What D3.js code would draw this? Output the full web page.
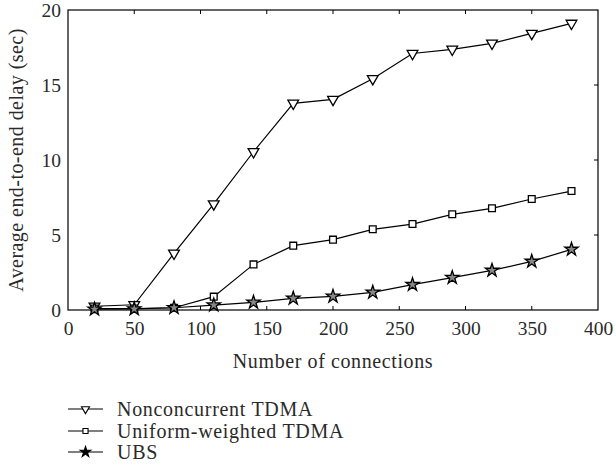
<!DOCTYPE html>
<html><head><meta charset="utf-8">
<script src="https://cdn.jsdelivr.net/npm/d3@7"></script>
<style>body{margin:0;background:#fff}svg{display:block}</style>
</head><body>
<svg id="c" width="616" height="471"></svg>
<script>
const xValues = [20,50,80,110,140,170,200,230,260,290,320,350,380];
const nonconcurrent = [0.25,0.35,3.78,7.07,10.55,13.78,14.04,15.42,17.1,17.38,17.78,18.44,19.11];
const uniformWeighted = [0.1,0.1,0.15,0.89,3.04,4.29,4.69,5.38,5.73,6.38,6.78,7.4,7.93];
const ubs = [0.05,0.07,0.15,0.33,0.51,0.78,0.91,1.18,1.69,2.16,2.64,3.24,4.04];
const seriesNames = ["Nonconcurrent TDMA","Uniform-weighted TDMA","UBS"];
const xTicks = [0,50,100,150,200,250,300,350,400];
const yTicks = [0,5,10,15,20];
const xLabel = "Number of connections";
const yLabel = "Average end-to-end delay (sec)";

const FONT = '"Liberation Serif", "Times New Roman", serif';
const svg = d3.select("#c");
const L=68,R=598,T=10,B=310;
const x = d3.scaleLinear().domain([0,400]).range([L,R]);
const y = d3.scaleLinear().domain([0,20]).range([B,T]);

svg.append("rect").attr("x",L).attr("y",T).attr("width",R-L).attr("height",B-T)
  .attr("fill","none").attr("stroke","#000").attr("stroke-width",1.2);

function styleText(sel, size, ls){
  sel.style("font-family",FONT).style("font-size",size+"px").style("fill","#2a2a2a")
     .style("letter-spacing",(ls||0)+"px");
}
const xb = svg.append("g").attr("transform",`translate(0,${B})`)
  .call(d3.axisBottom(x).tickValues(xTicks).tickSize(0).tickPadding(11).tickFormat(d3.format("d")));
xb.select(".domain").remove();
styleText(xb.selectAll("text"), 19.5);
xTicks.slice(1,-1).forEach(t=>{
  svg.append("line").attr("x1",x(t)).attr("x2",x(t)).attr("y1",B).attr("y2",B-4).attr("stroke","#000");
  svg.append("line").attr("x1",x(t)).attr("x2",x(t)).attr("y1",T).attr("y2",T+4).attr("stroke","#000");
});
const yl = svg.append("g").attr("transform",`translate(${L},0)`)
  .call(d3.axisLeft(y).tickValues(yTicks).tickSize(0).tickPadding(7).tickFormat(d3.format("d")));
yl.select(".domain").remove();
styleText(yl.selectAll("text"), 19.5);
yTicks.slice(1,-1).forEach(t=>{
  svg.append("line").attr("x1",R).attr("x2",R-4).attr("y1",y(t)).attr("y2",y(t)).attr("stroke","#000");
});

styleText(svg.append("text").attr("x",(L+R)/2).attr("y",368).attr("text-anchor","middle").text(xLabel), 20, 0.6);
styleText(svg.append("text").attr("transform",`translate(23,${(T+B)/2}) rotate(-90)`).attr("text-anchor","middle").text(yLabel), 20, 0.45);

const series = [nonconcurrent, uniformWeighted, ubs];
const symbols = [
  d3.symbol().type(d3.symbolTriangle).size(50),
  d3.symbol().type(d3.symbolSquare).size(46),
  d3.symbol().type(d3.symbolStar).size(55)
];
const rot = [180,0,0];
const line = d3.line().x((d,i)=>x(xValues[i])).y(d=>y(d));
series.forEach((s,k)=>{
  svg.append("path").datum(s).attr("d",line).attr("fill","none").attr("stroke","#000").attr("stroke-width",1.2);
  svg.selectAll(null).data(s).enter().append("path")
    .attr("d",symbols[k])
    .attr("transform",(d,i)=>`translate(${x(xValues[i])},${y(d)}) rotate(${rot[k]})`)
    .attr("fill",k===2?"#888":"#fff").attr("stroke","#000").attr("stroke-width",1.3);
});

const legY = [409,431,452];
const legSym = [
  d3.symbol().type(d3.symbolTriangle).size(28),
  d3.symbol().type(d3.symbolSquare).size(26),
  d3.symbol().type(d3.symbolStar).size(34)
];
seriesNames.forEach((n,k)=>{
  svg.append("line").attr("x1",68).attr("x2",103).attr("y1",legY[k]).attr("y2",legY[k]).attr("stroke","#000").attr("stroke-width",1.2);
  svg.append("path").attr("d",legSym[k]).attr("transform",`translate(85.5,${legY[k]}) rotate(${rot[k]})`)
    .attr("fill",k===2?"#000":"#fff").attr("stroke","#000").attr("stroke-width",1.1);
  styleText(svg.append("text").attr("x",117).attr("y",legY[k]).attr("dy","0.35em").text(n), 20, 0.7);
});
</script>
</body></html>
